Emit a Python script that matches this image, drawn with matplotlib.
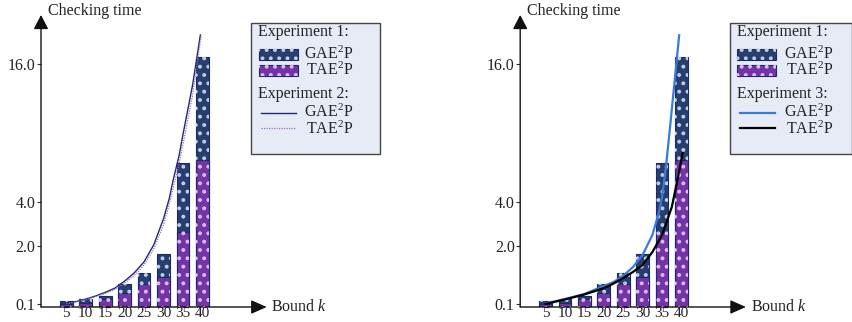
import numpy as np
import matplotlib
matplotlib.use("Agg")
import matplotlib.pyplot as plt
from matplotlib.patches import Rectangle
from matplotlib.lines import Line2D

# ---- data ----
bounds = [5, 10, 15, 20, 25, 30, 35, 40]
bound_labels = ["5", "10", "15", "20", "25", "30", "35", "40"]

# experiment 1 (bars, same in both panels)
gae_exp1 = [0.20, 0.26, 0.37, 0.76, 1.13, 1.74, 7.37, 16.58]
tae_exp1 = [0.10, 0.14, 0.25, 0.47, 0.75, 0.97, 2.65, 7.65]

# experiment 2 (left panel curves)
gae_exp2_k = [5, 7.5, 10, 12.5, 15, 17.5, 20, 22.5, 25, 27.5, 30, 31.5, 32.5, 34, 35,
              37.5, 39.5]
gae_exp2 = [0.12, 0.18, 0.26, 0.36, 0.48, 0.62, 0.85, 1.12, 1.48, 2.05, 3.23, 4.3, 5.91,
            8.0, 9.83, 14.17, 18.52]
tae_exp2_k = [5, 7.5, 10, 12.5, 15, 17.5, 20, 22.5, 25, 27.5, 30, 31.5, 32.5, 34, 35,
              37.5, 39.7]
tae_exp2 = [0.107, 0.17, 0.24, 0.34, 0.44, 0.58, 0.79, 1.03, 1.38, 1.90, 2.95, 3.9, 5.22,
            7.3, 8.96, 13.3, 18.5]

# experiment 3 (right panel curves)
gae_exp3_k = [5, 10, 15, 20, 22.5, 25, 27.5, 30, 32.5, 34, 35, 36, 37, 38, 39, 39.4]
gae_exp3 = [0.12, 0.26, 0.43, 0.69, 0.82, 1.02, 1.31, 1.71, 2.5, 3.41, 4.43, 7.04,
            10.35, 13.74, 17.13, 18.5]
tae_exp3_k = [5, 10, 15, 20, 22.5, 25, 27.5, 30, 32.5, 35, 37.5, 39, 40.3]
tae_exp3 = [0.10, 0.25, 0.41, 0.62, 0.77, 0.95, 1.15, 1.38, 1.80, 2.5, 3.77, 6.0, 8.26]

y_ticks = [0.1, 2.0, 4.0, 16.0]
y_tick_labels = ["0.1", "2.0", "4.0", "16.0"]

# the y axis of the original is hand-spaced, not linear / log
SCALE_V = [0, 0.1, 2, 4, 16, 40]
SCALE_P = [0, 3, 61, 105, 243, 519]


def fwd(v):
    return np.interp(np.asarray(v, float), SCALE_V, SCALE_P)


def inv(p):
    return np.interp(np.asarray(p, float), SCALE_P, SCALE_V)


NAVY = "#263f6e"
PURPLE = "#7433a6"
EDGE = "#1b2a66"
DOT_N = "#c3cbe6"
DOT_P = "#dcbdf0"
AXCOL = "#111111"
TXT = "#222222"
DOTS = ".."

plt.rcParams["font.family"] = ["Liberation Serif", "DejaVu Serif"]
plt.rcParams["mathtext.fontset"] = "custom"
plt.rcParams["mathtext.rm"] = "Liberation Serif"
plt.rcParams["mathtext.it"] = "Liberation Serif:italic"
plt.rcParams["hatch.linewidth"] = 1.6
FS = 11.5

W, H = 853, 322
fig = plt.figure(figsize=(W / 100, H / 100), dpi=100)


def fx(x):
    return x / W


def fy(y):
    return 1 - y / H


def dotted_rect(x, y, w, h, face, dots, transform, zorder):
    fig.add_artist(Rectangle((x, y), w, h, facecolor=face, edgecolor=EDGE,
                             linewidth=0.8, transform=transform, zorder=zorder))
    fig.add_artist(Rectangle((x, y), w, h, facecolor="none", edgecolor=dots,
                             hatch=DOTS, linewidth=0, transform=transform,
                             zorder=zorder + 0.1))


def draw_panel(ax, left_px, curves):
    ax.set_yscale("function", functions=(fwd, inv))
    ax.set_xlim(-1.51, 56.57)
    ax.set_ylim(0, float(inv(292)))
    for s in ax.spines.values():
        s.set_visible(False)
    ax.patch.set_alpha(0)

    bw = 3.27
    ax.bar(bounds, gae_exp1, width=bw, color=NAVY, edgecolor=EDGE, linewidth=0.8, zorder=2)
    ax.bar(bounds, gae_exp1, width=bw, facecolor="none", edgecolor=DOT_N, hatch=DOTS,
           linewidth=0, zorder=2.1)
    ax.bar(bounds, tae_exp1, width=bw, color=PURPLE, edgecolor=EDGE, linewidth=0.8, zorder=3)
    ax.bar(bounds, tae_exp1, width=bw, facecolor="none", edgecolor=DOT_P, hatch=DOTS,
           linewidth=0, zorder=3.1)

    for k, v, style in curves:
        ax.plot(k, v, zorder=4, **style)

    ax.set_yticks(y_ticks)
    ax.set_yticklabels(y_tick_labels)
    ax.set_xticks(bounds)
    ax.set_xticklabels(bound_labels)
    ax.tick_params(axis="y", direction="out", length=3, width=0.8, color="#333333",
                   pad=1, labelsize=FS, labelcolor=TXT)
    ax.tick_params(axis="x", length=0, pad=0, labelsize=11, labelcolor=TXT)

    # axes with arrow heads
    ax.annotate("", xy=(1, 0), xytext=(0, 0), xycoords="axes fraction",
                arrowprops=dict(arrowstyle="-|>,head_length=0.95,head_width=0.42",
                                color=AXCOL, lw=1.0, shrinkA=0, shrinkB=0,
                                mutation_scale=10))
    ax.annotate("", xy=(0, 1), xytext=(0, 0), xycoords="axes fraction",
                arrowprops=dict(arrowstyle="-|>,head_length=0.86,head_width=0.45",
                                color=AXCOL, lw=1.0, shrinkA=0, shrinkB=0,
                                mutation_scale=10))

    fig.text(fx(left_px + 7), fy(11), "Checking time", fontsize=FS,
             ha="left", va="center", color=TXT)
    fig.text(fx(left_px + 230.5), fy(307), "Bound $k$", fontsize=FS,
             ha="left", va="center", color=TXT)


def draw_legend(x0, x1, text_right, second_title, line_a, line_b):
    tr = fig.transFigure
    fig.add_artist(Rectangle((fx(x0), fy(154)), (x1 - x0) / W, (154 - 23) / H,
                             facecolor="#e7ebf5", edgecolor="#454545", linewidth=1.0,
                             transform=tr, zorder=5))
    fig.text(fx(x0 + 7), fy(32), "Experiment 1:", fontsize=FS, ha="left", va="center",
             color=TXT, zorder=6)
    dotted_rect(fx(x0 + 7.5), fy(60), 39 / W, 11 / H, NAVY, DOT_N, tr, 6)
    dotted_rect(fx(x0 + 7.5), fy(76), 39 / W, 11 / H, PURPLE, DOT_P, tr, 6)
    fig.text(fx(text_right), fy(54), "GAE$^2$P", fontsize=FS, ha="right", va="center",
             color=TXT, zorder=6)
    fig.text(fx(text_right), fy(70.5), "TAE$^2$P", fontsize=FS, ha="right", va="center",
             color=TXT, zorder=6)
    fig.text(fx(x0 + 7), fy(94), second_title, fontsize=FS, ha="left", va="center",
             color=TXT, zorder=6)
    fig.add_artist(Line2D([fx(x0 + 10), fx(x0 + 45)], [fy(113), fy(113)], transform=tr,
                          zorder=6, **line_a))
    fig.add_artist(Line2D([fx(x0 + 10), fx(x0 + 45)], [fy(128), fy(128)], transform=tr,
                          zorder=6, **line_b))
    fig.text(fx(text_right), fy(112), "GAE$^2$P", fontsize=FS, ha="right", va="center",
             color=TXT, zorder=6)
    fig.text(fx(text_right), fy(129), "TAE$^2$P", fontsize=FS, ha="right", va="center",
             color=TXT, zorder=6)


gae2_style = dict(color="#1d2b70", linewidth=1.0, linestyle="-")
tae2_style = dict(color="#9a6ad0", linewidth=0.9, linestyle=(0, (1, 1)))
gae3_style = dict(color="#3a7ad6", linewidth=1.6, linestyle="-")
tae3_style = dict(color="#000000", linewidth=1.6, linestyle="-")

ax1 = fig.add_axes([fx(41), fy(307), 225.7 / W, 292 / H])
ax2 = fig.add_axes([fx(520.2), fy(307), 225.7 / W, 292 / H])

draw_panel(ax1, 41, [(gae_exp2_k, gae_exp2, gae2_style), (tae_exp2_k, tae_exp2, tae2_style)])
draw_panel(ax2, 520.2, [(gae_exp3_k, gae_exp3, gae3_style), (tae_exp3_k, tae_exp3, tae3_style)])

draw_legend(251, 380, 353, "Experiment 2:", gae2_style, tae2_style)
draw_legend(730, 852, 833, "Experiment 3:", gae3_style, tae3_style)

fig.savefig("out.png", dpi=100)
